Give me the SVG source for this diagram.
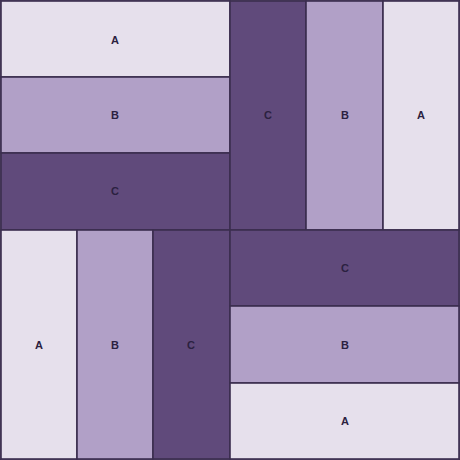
<svg xmlns="http://www.w3.org/2000/svg" width="460" height="460" viewBox="0 0 460 460">
<style>
rect{stroke:#3b2d4f;stroke-width:1.6}
.a{fill:#e6e0ec}.b{fill:#b1a0c7}.c{fill:#604a7b}
text{font-family:"Liberation Sans",Arial,sans-serif;font-size:11px;font-weight:bold;fill:#2b2140;text-anchor:middle;dominant-baseline:central}
</style>
<rect x="0" y="0" width="460" height="460" fill="#e6e0ec" stroke="none"/>
<g id="top-left">
<g id="tl-a"><rect class="a" x="1" y="1" width="229" height="76"/><text x="115" y="40">A</text></g>
<g id="tl-b"><rect class="b" x="1" y="77" width="229" height="76"/><text x="115" y="115">B</text></g>
<g id="tl-c"><rect class="c" x="1" y="153" width="229" height="77"/><text x="115" y="191">C</text></g>
</g>
<g id="top-right">
<g id="tr-c"><rect class="c" x="230" y="1" width="76" height="229"/><text x="268" y="115">C</text></g>
<g id="tr-b"><rect class="b" x="306" y="1" width="77" height="229"/><text x="345" y="115">B</text></g>
<g id="tr-a"><rect class="a" x="383" y="1" width="76" height="229"/><text x="421" y="115">A</text></g>
</g>
<g id="bottom-left">
<g id="bl-a"><rect class="a" x="1" y="230" width="76" height="229"/><text x="39" y="345">A</text></g>
<g id="bl-b"><rect class="b" x="77" y="230" width="76" height="229"/><text x="115" y="345">B</text></g>
<g id="bl-c"><rect class="c" x="153" y="230" width="77" height="229"/><text x="191" y="345">C</text></g>
</g>
<g id="bottom-right">
<g id="br-c"><rect class="c" x="230" y="230" width="229" height="76"/><text x="345" y="268">C</text></g>
<g id="br-b"><rect class="b" x="230" y="306" width="229" height="77"/><text x="345" y="345">B</text></g>
<g id="br-a"><rect class="a" x="230" y="383" width="229" height="76"/><text x="345" y="421">A</text></g>
</g>
</svg>
